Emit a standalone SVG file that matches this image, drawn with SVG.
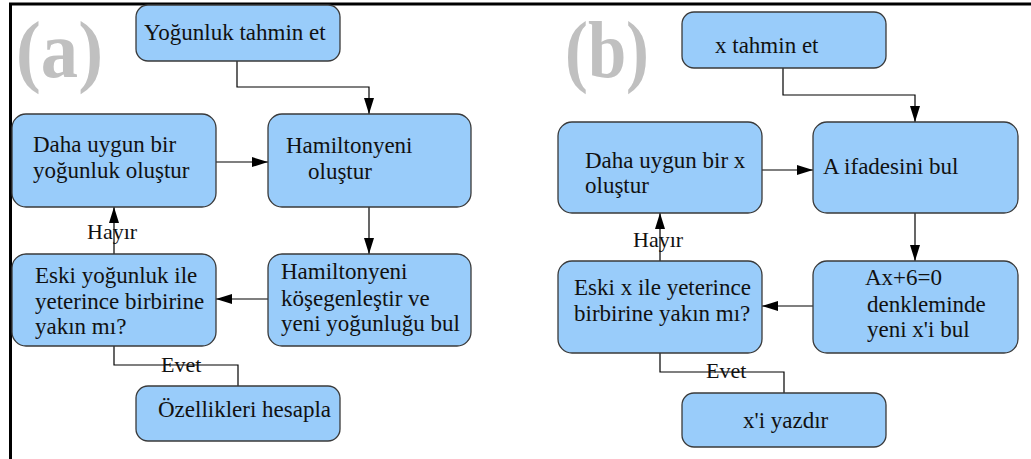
<svg xmlns="http://www.w3.org/2000/svg" width="1031" height="459" viewBox="0 0 1031 459" font-family="'Liberation Serif', 'Times New Roman', serif">
<defs>
<marker id="ah" markerUnits="userSpaceOnUse" markerWidth="17" markerHeight="10" refX="16" refY="5" orient="auto">
<path d="M0,0 L16,5 L0,10 Z" fill="#000"/>
</marker>
<style>
.box{fill:#99ccfa;stroke:#3a3a3a;stroke-width:1.3}
.ntext{font-family:'Liberation Serif','Times New Roman',serif;font-size:23px;fill:#111}
.lbl{font-family:'Liberation Serif','Times New Roman',serif;font-size:22px;fill:#111}
.panel{font-family:'Liberation Serif','Times New Roman',serif;font-size:80px;font-weight:bold;fill:#c0c0c0}
.conn{fill:none;stroke:#000;stroke-width:1.2}
.arr{marker-end:url(#ah)}
.frame{stroke:#000;stroke-width:3;fill:none}
</style>
</defs>
<rect width="1031" height="459" fill="#fff"/>
<path class="frame" d="M10.5,459 V4 H1031"/>
<text class="panel" font-family="Liberation Serif, serif" x="16" y="77" textLength="87" lengthAdjust="spacingAndGlyphs">(a)</text>
<text class="panel" font-family="Liberation Serif, serif" x="565" y="77" textLength="84" lengthAdjust="spacingAndGlyphs">(b)</text>
<g id="connectors">
<path class="conn arr" d="M237,61 V87 H369 V114"/>
<path class="conn arr" d="M216,162 H268"/>
<path class="conn arr" d="M369,207 V254"/>
<path class="conn arr" d="M268,299 H216"/>
<path class="conn arr" d="M114,254 V207"/>
<path class="conn" d="M114,346 V365 H238 V386"/>
<path class="conn arr" d="M783,68 V95 H915 V122"/>
<path class="conn arr" d="M762,170 H813"/>
<path class="conn arr" d="M915,213 V261"/>
<path class="conn arr" d="M813,306 H762"/>
<path class="conn arr" d="M660,261 V213"/>
<path class="conn" d="M660,353 V372 H784 V393"/>
<text class="lbl" x="87" y="239">Hayır</text>
<text class="lbl" x="161" y="372">Evet</text>
<text class="lbl" x="633" y="247">Hayır</text>
<text class="lbl" x="706" y="378">Evet</text>
</g>
<g id="a1" class="ntext"><rect class="box" x="136" y="5" width="204" height="56" rx="12"/><text x="144" y="40">Yoğunluk tahmin et</text></g>
<g id="a2" class="ntext"><rect class="box" x="12" y="114" width="204" height="93" rx="14"/><text x="33" y="152">Daha uygun bir</text><text x="33" y="178">yoğunluk oluştur</text></g>
<g id="a3" class="ntext"><rect class="box" x="268" y="114" width="203" height="93" rx="14"/><text x="286" y="153">Hamiltonyeni</text><text x="308" y="179">oluştur</text></g>
<g id="a4" class="ntext"><rect class="box" x="12" y="254" width="204" height="92" rx="14"/><text x="35" y="283">Eski yoğunluk ile</text><text x="35" y="309">yeterince birbirine</text><text x="35" y="334">yakın mı?</text></g>
<g id="a5" class="ntext"><rect class="box" x="268" y="254" width="203" height="92" rx="14"/><text x="281" y="279">Hamiltonyeni</text><text x="281" y="306">köşegenleştir ve</text><text x="281" y="331">yeni yoğunluğu bul</text></g>
<g id="a6" class="ntext"><rect class="box" x="136" y="386" width="204" height="55" rx="12"/><text x="158" y="417">Özellikleri hesapla</text></g>
<g id="b1" class="ntext"><rect class="box" x="682" y="12" width="204" height="56" rx="12"/><text x="715" y="53">x tahmin et</text></g>
<g id="b2" class="ntext"><rect class="box" x="558" y="122" width="204" height="91" rx="14"/><text x="585" y="168">Daha uygun bir x</text><text x="585" y="193">oluştur</text></g>
<g id="b3" class="ntext"><rect class="box" x="813" y="122" width="205" height="91" rx="14"/><text x="823" y="174">A ifadesini bul</text></g>
<g id="b4" class="ntext"><rect class="box" x="558" y="261" width="204" height="92" rx="14"/><text x="574" y="295">Eski x ile yeterince</text><text x="574" y="321">birbirine yakın mı?</text></g>
<g id="b5" class="ntext"><rect class="box" x="813" y="261" width="205" height="92" rx="14"/><text x="865" y="285">Ax+6=0</text><text x="867" y="312">denkleminde</text><text x="867" y="337">yeni x'i bul</text></g>
<g id="b6" class="ntext"><rect class="box" x="682" y="393" width="204" height="54" rx="12"/><text x="743" y="428">x'i yazdır</text></g>
</svg>
